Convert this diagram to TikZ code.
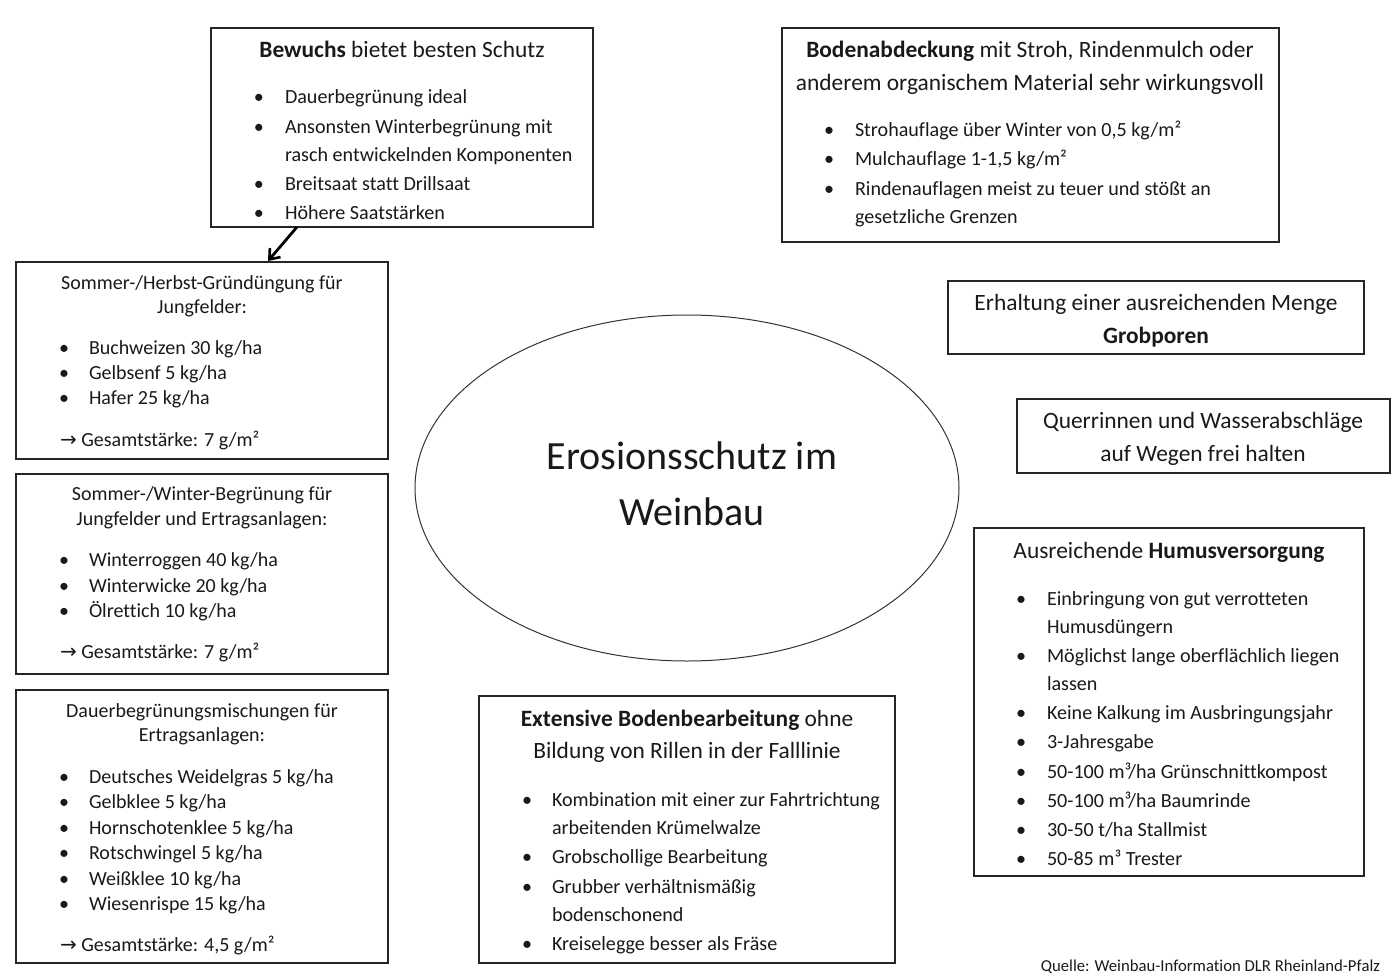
\documentclass[tikz,border=0pt]{standalone}
\usepackage{fontspec}
\setmainfont{Carlito}[Ligatures=NoCommon]
\newfontfamily\arrfont{DejaVu Sans}
\usetikzlibrary{arrows.meta,shapes.geometric,calc}
\newcounter{ln}
\tikzset{
  box/.style={draw=black!85, line width=1.3pt, inner sep=0pt, outer sep=0pt},
  lt/.style={inner sep=0pt, outer sep=0pt, text=black!90},
  arr/.style={-{Straight Barb[length=9pt,width=14pt,line width=2.6pt]}, line width=2.8pt},
}
\newcommand\fT{\fontsize{23.4}{26}\selectfont}
\newcommand\fB{\fontsize{20.1}{23}\selectfont}
\newcommand\fS{\fontsize{20}{23}\selectfont}
\newcommand\ar{{\arrfont\fontsize{20}{22}\selectfont →}}
% left aligned text, y = visual centre
\newcommand\Ll[4][\fB]{\stepcounter{ln}\node[lt,anchor=base west,font=#1] (tx\theln) at (#2,#3+6.5) {#4};}
% centred text
\newcommand\Lc[4][\fT]{\stepcounter{ln}\node[lt,anchor=base,font=#1] (tx\theln) at (#2,#3+7.5) {#4};}
% bullet + text
\newcommand\Lb[5][\fB]{\stepcounter{ln}\node[lt,anchor=base,font=#1] (bu\theln) at (#2,#4+6.5) {•};\node[lt,anchor=base west,font=#1] (tx\theln) at (#3,#4+6.5) {#5};}
\begin{document}
\begin{tikzpicture}[x=1pt,y=-1pt]
\useasboundingbox (0,0) rectangle (1400,979);
% boxes
\node[box,minimum width=382pt,minimum height=199pt] (box1) at (402,127.5) {};
\node[box,minimum width=497pt,minimum height=214pt] (box2) at (1030.5,135) {};
\node[box,minimum width=416pt,minimum height=73pt] (box3) at (1156,317.5) {};
\node[box,minimum width=373pt,minimum height=74pt] (box4) at (1203.5,436) {};
\node[box,minimum width=390pt,minimum height=348pt] (box5) at (1169,702) {};
\node[box,minimum width=416pt,minimum height=267pt] (box6) at (687,829.5) {};
\node[box,minimum width=372pt,minimum height=197pt] (box7) at (202,360.5) {};
\node[box,minimum width=372pt,minimum height=200pt] (box8) at (202,574) {};
\node[box,minimum width=372pt,minimum height=273pt] (box9) at (202,826.5) {};
\node[draw=black!80,line width=1pt,ellipse,minimum width=544pt,minimum height=346pt,inner sep=0pt] (ell) at (687,488) {};
\Lc[\fontsize{40}{44}\selectfont]{692}{457+5}{Erosionsschutz im}
\Lc[\fontsize{40}{44}\selectfont]{692}{513+5}{Weinbau}
% box 1
\Lc{402}{50}{\textbf{Bewuchs} bietet besten Schutz}
\Lb{259}{285}{97}{Dauerbegrünung ideal}
\Lb{259}{285}{127}{Ansonsten Winterbegrünung mit}
\Ll{285}{155}{rasch entwickelnden Komponenten}
\Lb{259}{285}{184}{Breitsaat statt Drillsaat}
\Lb{259}{285}{213}{Höhere Saatstärken}
% box 2
\Lc{1030}{50}{\textbf{Bodenabdeckung} mit Stroh, Rindenmulch oder}
\Lc{1030}{83}{anderem organischem Material sehr wirkungsvoll}
\Lb{829}{855}{130}{Strohauflage über Winter von 0,5 kg/m²}
\Lb{829}{855}{159}{Mulchauflage 1-1,5 kg/m²}
\Lb{829}{855}{189}{Rindenauflagen meist zu teuer und stößt an}
\Ll{855}{217}{gesetzliche Grenzen}
% box 3
\Lc{1156}{303}{Erhaltung einer ausreichenden Menge}
\Lc{1156}{336}{\textbf{Grobporen}}
% box 4
\Lc{1203}{421}{Querrinnen und Wasserabschläge}
\Lc{1203}{454}{auf Wegen frei halten}
% box 5
\Lc{1169}{551}{Ausreichende \textbf{Humusversorgung}}
\Lb{1021}{1047}{599}{Einbringung von gut verrotteten}
\Ll{1047}{627}{Humusdüngern}
\Lb{1021}{1047}{656}{Möglichst lange oberflächlich liegen}
\Ll{1047}{684}{lassen}
\Lb{1021}{1047}{713}{Keine Kalkung im Ausbringungsjahr}
\Lb{1021}{1047}{742}{3-Jahresgabe}
\Lb{1021}{1047}{772}{50-100 m³/ha Grünschnittkompost}
\Lb{1021}{1047}{801}{50-100 m³/ha Baumrinde}
\Lb{1021}{1047}{830}{30-50 t/ha Stallmist}
\Lb{1021}{1047}{859}{50-85 m³ Trester}
% box 6
\Lc{687}{719}{\textbf{Extensive Bodenbearbeitung} ohne}
\Lc{687}{751}{Bildung von Rillen in der Falllinie}
\Lb{527}{552}{800}{Kombination mit einer zur Fahrtrichtung}
\Ll{552}{828}{arbeitenden Krümelwalze}
\Lb{527}{552}{857}{Grobschollige Bearbeitung}
\Lb{527}{552}{887}{Grubber verhältnismäßig}
\Ll{552}{915}{bodenschonend}
\Lb{527}{552}{944}{Kreiselegge besser als Fräse}
% box 7
\Lc[\fS]{202}{282}{Sommer-/Herbst-Gründüngung für}
\Lc[\fS]{202}{306}{Jungfelder:}
\Lb[\fS]{64}{89}{348}{Buchweizen 30 kg/ha}
\Lb[\fS]{64}{89}{373}{Gelbsenf 5 kg/ha}
\Lb[\fS]{64}{89}{398}{Hafer 25 kg/ha}
\Ll[\fS]{60}{440}{\ar\ Gesamtstärke: 7 g/m²}
% box 8
\Lc[\fS]{202}{493}{Sommer-/Winter-Begrünung für}
\Lc[\fS]{202}{518}{Jungfelder und Ertragsanlagen:}
\Lb[\fS]{64}{89}{560}{Winterroggen 40 kg/ha}
\Lb[\fS]{64}{89}{586}{Winterwicke 20 kg/ha}
\Lb[\fS]{64}{89}{611}{Ölrettich 10 kg/ha}
\Ll[\fS]{60}{652}{\ar\ Gesamtstärke: 7 g/m²}
% box 9
\Lc[\fS]{202}{710}{Dauerbegrünungsmischungen für}
\Lc[\fS]{202}{734}{Ertragsanlagen:}
\Lb[\fS]{64}{89}{777}{Deutsches Weidelgras 5 kg/ha}
\Lb[\fS]{64}{89}{802}{Gelbklee 5 kg/ha}
\Lb[\fS]{64}{89}{828}{Hornschotenklee 5 kg/ha}
\Lb[\fS]{64}{89}{853}{Rotschwingel 5 kg/ha}
\Lb[\fS]{64}{89}{879}{Weißklee 10 kg/ha}
\Lb[\fS]{64}{89}{904}{Wiesenrispe 15 kg/ha}
\Ll[\fS]{60}{945}{\ar\ Gesamtstärke: 4,5 g/m²}
% source
\node[lt,anchor=base east,font=\fontsize{16.7}{19}\selectfont] (src) at (1380,971) {Quelle: Weinbau-Information DLR Rheinland-Pfalz};
% arrow
\coordinate (a1) at ($(box1.south west)+(86,0)$);
\coordinate (a2) at ($(box7.north west)+(252,-1)$);
\draw[arr] (a1) -- (a2);
\end{tikzpicture}
\end{document}
